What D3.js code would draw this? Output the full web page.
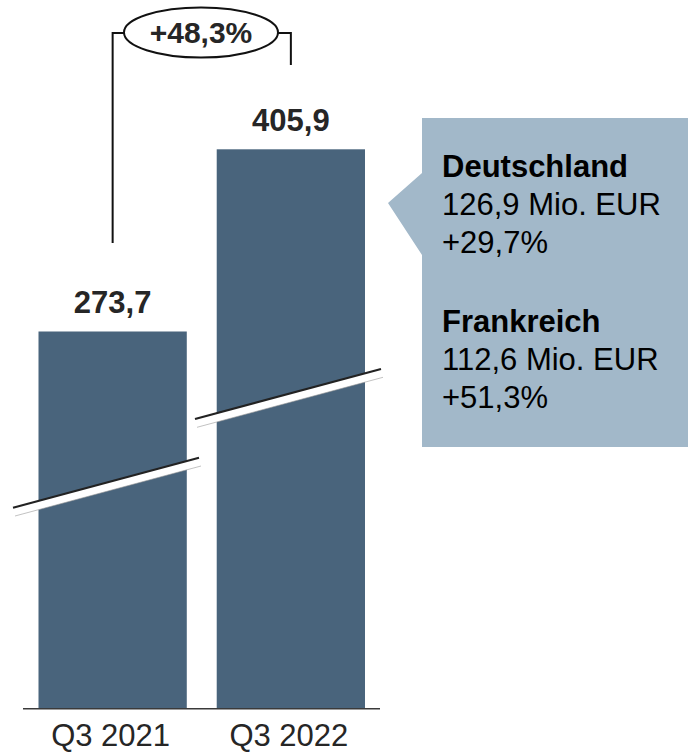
<!DOCTYPE html>
<html>
<head>
<meta charset="utf-8">
<script src="https://cdn.jsdelivr.net/npm/d3@7"></script>
<style>
  html, body { margin: 0; padding: 0; background: #fff; }
  svg { display: block; font-family: "Liberation Sans", Arial, sans-serif; }
</style>
</head>
<body>
<svg id="chart" width="688" height="752"></svg>
<script>
// data
const quarters = ["Q3 2021", "Q3 2022"];
const revenue = [273.7, 405.9];
const valueLabels = ["273,7", "405,9"];
const growthLabel = "+48,3%";
const calloutTitles = ["Deutschland", "Frankreich"];
const calloutAmounts = ["126,9 Mio. EUR", "112,6 Mio. EUR"];
const calloutGrowth = ["+29,7%", "+51,3%"];

const svg = d3.select("#chart");
const barColor = "#49647c";
const boxColor = "#a2b8c9";

const x = d3.scaleBand().domain(quarters).range([38.5, 365]).paddingInner(0.168).paddingOuter(0);
const y = d3.scaleLinear().domain([0, d3.max(revenue)]).range([708.7, 149.3]);

// bars
svg.selectAll("rect.bar")
  .data(revenue)
  .enter().append("rect")
    .attr("class", "bar")
    .attr("x", (d, i) => x(quarters[i]))
    .attr("y", d => y(d))
    .attr("width", x.bandwidth())
    .attr("height", d => y(0) - y(d))
    .attr("fill", barColor);

// axis baseline
svg.append("line")
  .attr("x1", 23).attr("x2", 380)
  .attr("y1", y(0)).attr("y2", y(0))
  .attr("stroke", "#3a3a3a").attr("stroke-width", 1.5);

// category labels
svg.selectAll("text.cat")
  .data(quarters)
  .enter().append("text")
    .attr("class", "cat")
    .attr("x", d => x(d) + x.bandwidth() / 2 - 2)
    .attr("y", 746)
    .attr("text-anchor", "middle")
    .attr("font-size", 31)
    .attr("fill", "#262626")
    .text(d => d);

// value labels
svg.selectAll("text.val")
  .data(revenue)
  .enter().append("text")
    .attr("class", "val")
    .attr("x", (d, i) => x(quarters[i]) + x.bandwidth() / 2)
    .attr("y", d => y(d) - 18)
    .attr("text-anchor", "middle")
    .attr("font-size", 31)
    .attr("font-weight", "bold")
    .attr("fill", "#262626")
    .text((d, i) => valueLabels[i]);

// axis break marks (decorative)
function breakMark(x0, y0, x1, y1) {
  const off = 8.3;
  svg.append("path")
    .attr("d", `M${x0},${y0} L${x1},${y1} L${x1 + 2},${y1 + off} L${x0 + 2},${y0 + off} Z`)
    .attr("fill", "#fff");
  svg.append("line")
    .attr("x1", x0 + 2).attr("y1", y0 + off).attr("x2", x1 + 2).attr("y2", y1 + off)
    .attr("stroke", "#999").attr("stroke-width", 0.6);
  svg.append("line")
    .attr("x1", x0).attr("y1", y0).attr("x2", x1).attr("y2", y1)
    .attr("stroke", "#222").attr("stroke-width", 2.2);
}
breakMark(13, 507.7, 199, 457.7);
breakMark(195, 419, 381, 369);

// growth bracket
const cx1 = x(quarters[0]) + x.bandwidth() / 2;
const cx2 = x(quarters[1]) + x.bandwidth() / 2;
svg.append("path")
  .attr("d", `M${cx1},243 V33 H130 M270,33 H${cx2} V65`)
  .attr("fill", "none").attr("stroke", "#111").attr("stroke-width", 2);
svg.append("ellipse")
  .attr("cx", 201).attr("cy", 32.5)
  .attr("rx", 77).attr("ry", 25)
  .attr("fill", "#fff").attr("stroke", "#111").attr("stroke-width", 2);
svg.append("text")
  .attr("x", 201).attr("y", 43)
  .attr("text-anchor", "middle")
  .attr("font-size", 30).attr("font-weight", "bold")
  .attr("fill", "#262626")
  .text(growthLabel);

// callout
svg.append("path")
  .attr("d", "M422,118 H688 V447 H422 V255 L388,203 L422,173 Z")
  .attr("fill", boxColor);

const lines = [];
calloutTitles.forEach((t, i) => {
  lines.push({ text: t, bold: true, group: i, row: 0 });
  lines.push({ text: calloutAmounts[i], bold: false, group: i, row: 1 });
  lines.push({ text: calloutGrowth[i], bold: false, group: i, row: 2 });
});
svg.selectAll("text.call")
  .data(lines)
  .enter().append("text")
    .attr("class", "call")
    .attr("x", 442)
    .attr("y", d => 177 + d.group * 155 + d.row * 38)
    .attr("font-size", 31)
    .attr("font-weight", d => d.bold ? "bold" : "normal")
    .attr("fill", "#000")
    .text(d => d.text);
</script>
</body>
</html>
